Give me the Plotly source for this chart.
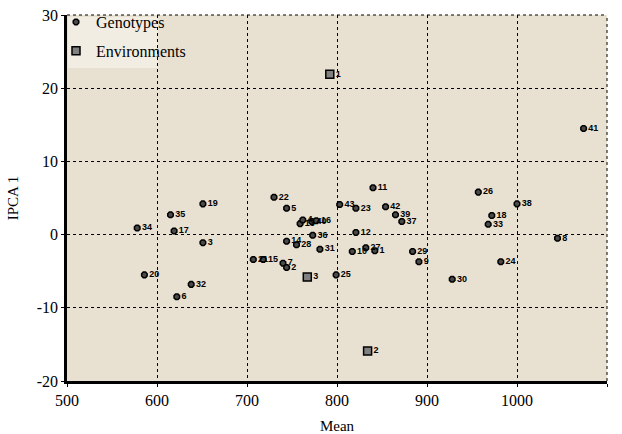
import plotly.graph_objects as go

geno_labels = ["34", "35", "17", "19", "3", "20", "32", "6",
               "22", "5", "13", "4", "40", "16", "36", "14", "28", "31",
               "21", "15", "7", "2", "25",
               "43", "23", "11", "42", "39", "37", "12", "10", "27", "1",
               "29", "9", "26", "38", "18", "33", "8", "24", "30", "41"]
geno_mean = [578, 615, 619, 651, 651, 586, 638, 622,
             730, 744, 759, 762, 772, 777, 773, 744, 755, 781,
             707, 718, 740, 744, 799,
             803, 821, 840, 854, 865, 872, 821, 817, 832, 842,
             884, 891, 957, 1000, 972, 968, 1045, 982, 928, 1074]
geno_ipca = [0.9, 2.7, 0.5, 4.2, -1.1, -5.5, -6.8, -8.5,
             5.1, 3.6, 1.5, 2.0, 1.8, 1.9, -0.1, -0.9, -1.4, -2.0,
             -3.4, -3.4, -3.9, -4.5, -5.5,
             4.1, 3.6, 6.4, 3.8, 2.7, 1.8, 0.3, -2.3, -1.8, -2.2,
             -2.3, -3.7, 5.8, 4.2, 2.6, 1.4, -0.5, -3.7, -6.1, 14.5]

env_labels = ["1", "2", "3"]
env_mean = [792, 834, 767]
env_ipca = [21.9, -15.9, -5.8]

x_ticks = [500, 600, 700, 800, 900, 1000, 1100]
y_ticks = [-20, -10, 0, 10, 20, 30]
y_ticktext = ["-20", "-10", "0", "10", "20", "30"]

label_font = dict(family="Liberation Sans Narrow, Liberation Sans, Arial",
                  size=9, color="black")
serif = "Liberation Serif, Times New Roman, DejaVu Serif"

W, H = 622, 434
ML, MR, MT, MB = 67, 15, 15, 53
PW = W - ML - MR
PH = H - MT - MB

fig = go.Figure()
fig.add_trace(go.Scatter(
    x=geno_mean, y=geno_ipca, mode="markers+text", name="Genotypes",
    legendgroup="g",
    text=["<b>%s</b>" % t for t in geno_labels], textposition="middle right",
    textfont=label_font,
    marker=dict(symbol="octagon", size=6, color="#4a4a4a",
                line=dict(color="black", width=1.5)),
))
fig.add_trace(go.Scatter(
    x=env_mean, y=env_ipca, mode="markers+text", name="Environments",
    legendgroup="e",
    text=["<b>%s</b>" % t for t in env_labels], textposition="middle right",
    textfont=label_font,
    marker=dict(symbol="square", size=8, color="#808080",
                line=dict(color="black", width=1.5)),
))

axis_common = dict(showgrid=True, gridcolor="black", griddash="dot", gridwidth=1,
                   zeroline=False, showline=True, linecolor="black", linewidth=2.5,
                   ticks="outside", ticklen=3, tickcolor="black",
                   tickfont=dict(family=serif, size=16, color="black"),
                   mirror=False, automargin=False)

fig.update_layout(
    width=W, height=H,
    margin=dict(l=ML, r=MR, t=MT, b=MB, autoexpand=False),
    paper_bgcolor="white",
    plot_bgcolor="#e8e1d2",
    showlegend=True,
    legend=dict(x=(56 - ML) / PW, y=1 + (MT - 5) / PH, xanchor="left", yanchor="top",
                bgcolor="rgba(0,0,0,0)", borderwidth=0,
                font=dict(family=serif, size=16, color="black"),
                itemsizing="trace", tracegroupgap=5, itemwidth=30,
                traceorder="grouped"),
    xaxis=dict(range=[500, 1100], tickvals=x_ticks,
               title=dict(text="Mean", font=dict(family=serif, size=15, color="black")),
               **axis_common),
    yaxis=dict(range=[-20, 30], tickvals=y_ticks, ticktext=y_ticktext,
               title=dict(text="IPCA 1", font=dict(family=serif, size=15, color="black")),
               **axis_common),
)

fig.add_shape(type="rect", xref="paper", yref="paper", layer="below",
              x0=(68 - ML) / PW, x1=(158 - ML) / PW,
              y0=1 - (68 - MT) / PH, y1=1 - (17 - MT) / PH,
              fillcolor="rgba(242,238,228,0.9)", line=dict(width=0))
fig.add_shape(type="line", xref="paper", yref="paper", x0=0, x1=1, y0=1, y1=1,
              line=dict(color="black", width=1, dash="dot"))
fig.add_shape(type="line", xref="paper", yref="paper", x0=1, x1=1, y0=0, y1=1,
              line=dict(color="black", width=1, dash="dot"))

fig.write_html("out.html", config={"displayModeBar": False},
               post_script="document.body.style.margin='0';document.body.style.padding='0';")
